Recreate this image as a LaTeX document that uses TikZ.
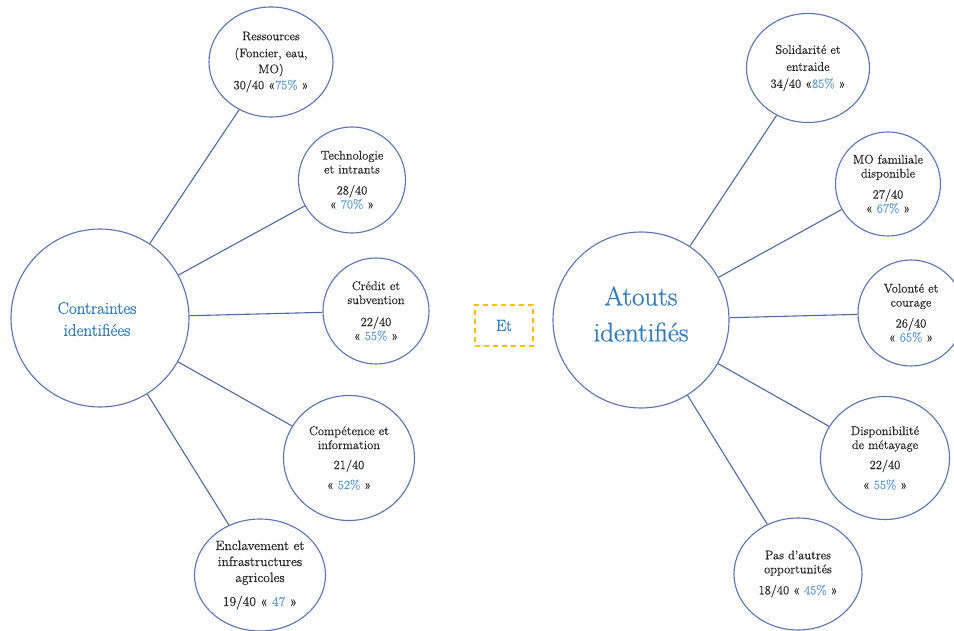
\documentclass[tikz,border=0pt]{standalone}
\usepackage{fontspec}
\setmainfont{Latin Modern Roman}[FakeBold=0.6]
\usetikzlibrary{shapes.geometric}
\definecolor{ringcol}{HTML}{5A72B0}
\definecolor{linkcol}{HTML}{5068A0}
\definecolor{titleblue}{HTML}{2A7BBF}
\definecolor{pctblue}{HTML}{5B9BD5}
\definecolor{goldline}{HTML}{FFC000}
\definecolor{bodytext}{HTML}{262626}
\newcommand\pct[1]{\textcolor{pctblue}{#1}}
\begin{document}
\begin{tikzpicture}[x=1pt,y=-1pt,
  hub/.style={circle, draw=ringcol, line width=1.1pt, inner sep=0pt},
  hubtext/.style={align=center, text=titleblue, inner sep=0pt},
  bub/.style={ellipse, draw=ringcol, line width=1.1pt, inner sep=0pt, align=center,
    font=\fontsize{12.5}{14}\selectfont, text=bodytext},
  link/.style={draw=linkcol, line width=1.1pt},
  andbox/.style={draw=goldline, line width=1.3pt, dash pattern=on 5pt off 4pt,
    minimum width=58pt, minimum height=41pt, inner sep=0pt, text=titleblue,
    font=\fontsize{16}{18}\selectfont}]
\useasboundingbox (0,0) rectangle (954,631);

% ---- Left group: constraints ----
\node[hub, minimum size=178pt] (C) at (100,318) {};
\node[hubtext, font=\fontsize{17}{22}\selectfont] (Ct) at (97,319) {Contraintes\\identifiées};

\node[bub, minimum width=124pt, minimum height=110pt] (R) at (271,62)
  {Ressources\\[3pt](Foncier, eau,\\[2pt]MO)\\[2pt]30/40 «\pct{75\%} »};
\node[bub, minimum width=107pt, minimum height=106pt] (T) at (352,180)
  {Technologie\\et intrants\\[7pt]28/40\\« \pct{70\%} »};
\node[bub, minimum width=106pt, minimum height=106pt] (Cr) at (376,311)
  {Crédit et\\subvention\\[8pt]22/40\\« \pct{55\%} »};
\node[bub, minimum width=131pt, minimum height=125pt] (Co) at (349,458)
  {Compétence et\\information\\[6pt]21/40\\[6pt]« \pct{52\%} »};
\node[bub, minimum width=131pt, minimum height=112pt, font=\fontsize{13.5}{16}\selectfont] (E) at (260,575)
  {Enclavement et\\infrastructures\\agricoles\\[8pt]19/40 « \pct{47} »};

\foreach \n in {R,T,Cr,Co,E} \draw[link] (C) -- (\n);

% ---- Link word ----
\node[andbox] (Et) at (504,325.5) {Et};

% ---- Right group: assets ----
\node[hub, minimum size=176pt] (A) at (641,320) {};
\node[hubtext, font=\fontsize{27}{36}\selectfont] (At) at (641,314) {Atouts\\identifiés};

\node[bub, minimum width=123pt, minimum height=109pt] (S) at (808,68)
  {Solidarité et\\[3pt]entraide\\[3pt]34/40 «\pct{85\%} »};
\node[bub, minimum width=105pt, minimum height=104pt] (M) at (888,184)
  {MO familiale\\disponible\\[7pt]27/40\\« \pct{67\%} »};
\node[bub, minimum width=106pt, minimum height=106pt] (V) at (911,313)
  {Volonté et\\courage\\[7pt]26/40\\« \pct{65\%} »};
\node[bub, minimum width=129pt, minimum height=123pt] (D) at (885,458)
  {Disponibilité\\de métayage\\[6pt]22/40\\[6pt]« \pct{55\%} »};
\node[bub, minimum width=128pt, minimum height=112pt] (P) at (798,574)
  {Pas d’autres\\opportunités\\[7pt]18/40 « \pct{45\%} »};

\foreach \n in {S,M,V,D,P} \draw[link] (A) -- (\n);
\end{tikzpicture}
\end{document}
